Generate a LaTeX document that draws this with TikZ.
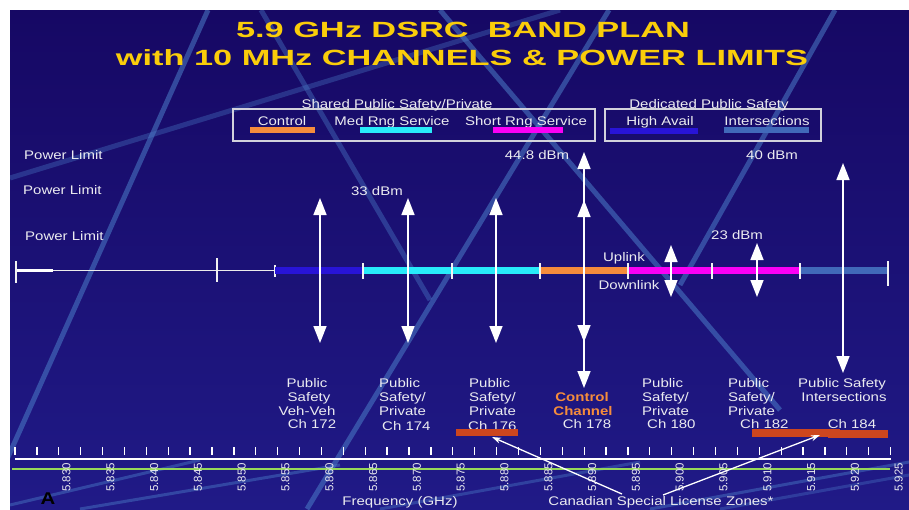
\documentclass[tikz,border=0pt]{standalone}
\usepackage{fontspec}
\usepackage{graphicx}
\setmainfont{Liberation Sans}[FakeStretch=1.2]
\newfontfamily\titlefont{Liberation Sans}[FakeStretch=1.56]
\newfontfamily\axisfont{Liberation Sans}
\usetikzlibrary{arrows.meta}
\definecolor{bgtop}{RGB}{22,8,100}
\definecolor{bgbot}{RGB}{32,26,135}
\definecolor{stripecol}{RGB}{75,125,200}
\definecolor{titleyel}{RGB}{250,205,10}
\definecolor{hablue}{RGB}{40,20,215}
\definecolor{medcyan}{RGB}{40,235,250}
\definecolor{ctrlorg}{RGB}{245,140,60}
\definecolor{srmag}{RGB}{250,0,245}
\definecolor{intblue}{RGB}{65,105,185}
\definecolor{canred}{RGB}{205,70,30}
\definecolor{txtcol}{RGB}{235,235,240}
\definecolor{boxline}{RGB}{210,210,220}
\definecolor{axgreen}{RGB}{150,215,90}
\tikzset{
  lbl/.style={text=txtcol, font=\fontsize{12.5}{14}\selectfont, inner sep=0pt},
  ctl/.style={text=ctrlorg, font=\bfseries\fontsize{12.5}{14}\selectfont, inner sep=0pt},
  ttl/.style={text=titleyel, font=\titlefont\bfseries\fontsize{22}{24}\selectfont, inner sep=0pt},
  axlbl/.style={text=txtcol, font=\axisfont\fontsize{11.5}{12}\selectfont, rotate=90, inner sep=0pt},
  legbox/.style={draw=boxline, line width=1.4pt},
  stripe/.style={draw=stripecol, line width=5pt, opacity=0.55},
  dblarrow/.style={draw=white, line width=1.6pt, {Triangle[length=17pt,width=13pt]}-{Triangle[length=17pt,width=13pt]}},
  bandtick/.style={draw=white!90!gray, line width=1.4pt},
  canarrow/.style={draw=white, line width=1.3pt, -{Stealth[length=9pt,width=6pt]}},
}
\begin{document}
\begin{tikzpicture}[x=1pt,y=-1pt]
\useasboundingbox (0,0) rectangle (909,509);
\fill[white] (0,0) rectangle (909,509);
\shade[top color=bgtop, bottom color=bgbot] (10,10) rectangle (909,509);
% decorative stripes
\begin{scope}
\clip (10,10) rectangle (909,509);
\draw[stripe] (208,10) -- (0,475);
\draw[stripe, opacity=0.35] (10,178) -- (560,10);
\draw[stripe] (440,10) -- (780,410);
\draw[stripe] (609,10) -- (307,509);
\draw[stripe] (835,10) -- (680,285);
\draw[stripe, opacity=0.4] (261,10) -- (430,300);
\draw[stripe, line width=3pt, opacity=0.45] (10,505) -- (200,460);
\draw[stripe, line width=3pt, opacity=0.45] (80,509) -- (340,465);
\draw[stripe, line width=3pt, opacity=0.4] (380,509) -- (640,462);
\draw[stripe, line width=3pt, opacity=0.45] (650,509) -- (909,462);
\draw[stripe, line width=3pt, opacity=0.35] (720,509) -- (909,475);
\end{scope}
% title
\node[ttl, anchor=base] (t1) at (463,37.3) {5.9 GHz DSRC~~BAND PLAN};
\node[ttl, anchor=base] (t2) at (462,65) {with 10 MHz CHANNELS \& POWER LIMITS};
% legend
\draw[legbox] (233,109) rectangle (595,141);
\draw[legbox] (605,109) rectangle (821,141);
\node[lbl, anchor=base] (shared) at (397,108.5) {Shared Public Safety/Private};
\node[lbl, anchor=base] (dedic) at (709,108.5) {Dedicated Public Safety};
\node[lbl, anchor=base] (lctrl) at (282,125.5) {Control};
\fill[ctrlorg] (250,127) rectangle (315,133);
\node[lbl, anchor=base] (lmed) at (392,125.5) {Med Rng Service};
\fill[medcyan] (360,127) rectangle (432,133);
\node[lbl, anchor=base] (lshort) at (526,125.5) {Short Rng Service};
\fill[srmag] (493,127) rectangle (563,133);
\node[lbl, anchor=base] (lhigh) at (660,125.5) {High Avail};
\fill[hablue] (610,128) rectangle (698,134);
\node[lbl, anchor=base] (linter) at (767,125.5) {Intersections};
\fill[intblue] (724,127) rectangle (809,133);
% power limits
\node[lbl, anchor=base west] (pl1) at (24,159.5) {Power Limit};
\node[lbl, anchor=base west] (pl2) at (23,194) {Power Limit};
\node[lbl, anchor=base west] (pl3) at (25,240.5) {Power Limit};
\node[lbl, anchor=base] (p33) at (377,195.5) {33 dBm};
\node[lbl, anchor=base] (p448) at (537,159.5) {44.8 dBm};
\node[lbl, anchor=base] (p40) at (772,159.5) {40 dBm};
\node[lbl, anchor=base] (p23) at (737,239.5) {23 dBm};
\node[lbl, anchor=base] (uplink) at (624,261.5) {Uplink};
\node[lbl, anchor=base] (downlink) at (629,289.5) {Downlink};
% band line
\draw[white!85!gray, line width=1.3pt] (16,270.5) -- (275,270.5);
\draw[white, line width=2.4pt] (16,270.5) -- (53,270.5);
\draw[bandtick] (16,261) -- (16,283);
\draw[bandtick] (217,258) -- (217,282);
\draw[bandtick] (275,265) -- (275,277);
\fill[hablue] (275,267) rectangle (363,274);
\fill[medcyan] (363,267) rectangle (540,274);
\fill[ctrlorg] (540,267) rectangle (628,274);
\fill[srmag] (628,267) rectangle (800,274);
\fill[intblue] (800,267) rectangle (888,274);
\foreach \bx in {363,452,540,628,712,800} {\draw[bandtick] (\bx,263) -- (\bx,279);}
\draw[bandtick] (888,261) -- (888,286);
% power arrows
\coordinate (a172t) at (320,198); \coordinate (a172b) at (320,343);
\coordinate (a174t) at (408,198); \coordinate (a174b) at (408,343);
\coordinate (a176t) at (496,198); \coordinate (a176b) at (496,343);
\coordinate (a178t) at (584,152); \coordinate (a178b) at (584,388);
\coordinate (a178u) at (584,200); \coordinate (a178d) at (584,342);
\coordinate (a180t) at (671,245); \coordinate (a180b) at (671,297);
\coordinate (a182t) at (757,243); \coordinate (a182b) at (757,297);
\coordinate (a184t) at (843,163); \coordinate (a184b) at (843,373);
\draw[dblarrow] (a172t) -- (a172b);
\draw[dblarrow] (a174t) -- (a174b);
\draw[dblarrow] (a176t) -- (a176b);
\draw[dblarrow] (a178t) -- (a178b);
\draw[dblarrow] (a178u) -- (a178d);
\draw[dblarrow] (a180t) -- (a180b);
\draw[dblarrow] (a182t) -- (a182b);
\draw[dblarrow] (a184t) -- (a184b);
% channel labels
\node[lbl, anchor=base] (c172a) at (307,387.5) {Public};
\node[lbl, anchor=base] (c172b) at (309,401.5) {Safety};
\node[lbl, anchor=base] (c172c) at (307,415.5) {Veh-Veh};
\node[lbl, anchor=base] (c172d) at (312,428.5) {Ch 172};
\node[lbl, anchor=base west] (c174a) at (379,387.5) {Public};
\node[lbl, anchor=base west] (c174b) at (379,401.5) {Safety/};
\node[lbl, anchor=base west] (c174c) at (379,415.5) {Private};
\node[lbl, anchor=base west] (c174d) at (382,430.5) {Ch 174};
\node[lbl, anchor=base west] (c176a) at (469,387.5) {Public};
\node[lbl, anchor=base west] (c176b) at (469,401.5) {Safety/};
\node[lbl, anchor=base west] (c176c) at (469,415.5) {Private};
\node[lbl, anchor=base west] (c176d) at (468,430.5) {Ch 176};
\node[ctl, anchor=base] (c178a) at (582,401.5) {Control};
\node[ctl, anchor=base] (c178b) at (583,415.5) {Channel};
\node[lbl, anchor=base] (c178c) at (587,428.5) {Ch 178};
\node[lbl, anchor=base west] (c180a) at (642,387.5) {Public};
\node[lbl, anchor=base west] (c180b) at (642,401.5) {Safety/};
\node[lbl, anchor=base west] (c180c) at (642,415.5) {Private};
\node[lbl, anchor=base west] (c180d) at (647,428.5) {Ch 180};
\node[lbl, anchor=base west] (c182a) at (728,387.5) {Public};
\node[lbl, anchor=base west] (c182b) at (728,401.5) {Safety/};
\node[lbl, anchor=base west] (c182c) at (728,415.5) {Private};
\node[lbl, anchor=base west] (c182d) at (740,428.5) {Ch 182};
\node[lbl, anchor=base] (c184a) at (842,387.5) {Public Safety};
\node[lbl, anchor=base] (c184b) at (844,401.5) {Intersections};
\node[lbl, anchor=base] (c184c) at (852,428.5) {Ch 184};
% Canadian zone bars
\fill[canred] (456,429) rectangle (518,436);
\fill[canred] (752,429) rectangle (840,437);
\fill[canred] (828,430) rectangle (888,438);
% axis
\foreach \i in {0,...,40} {\draw[white, line width=1.3pt] ({15+21.89*\i},447) -- ({15+21.89*\i},455);}
\draw[white, line width=2pt] (15,459) -- (891,459);
\draw[axgreen, line width=2pt] (12,468.7) -- (890,468.7);
\foreach \i/\t in {0/5.830,1/5.835,2/5.840,3/5.845,4/5.850,5/5.855,6/5.860,7/5.865,8/5.870,9/5.875,10/5.880,11/5.885,12/5.890,13/5.895,14/5.900,15/5.905,16/5.910,17/5.915,18/5.920,19/5.925}
  {\node[axlbl] (ax\i) at ({66.5+43.8*\i},477.5) {\t};}
\node[text=black, font=\bfseries\fontsize{17}{18}\selectfont, inner sep=0pt, anchor=base] (alabel) at (48,504.5) {A};
\node[lbl, anchor=base] (freq) at (400,505.5) {Frequency (GHz)};
\node[lbl, anchor=base] (canz) at (661,505.5) {Canadian Special License Zones*};
\coordinate (cz1) at (622,494); \coordinate (bz1) at (492,437);
\coordinate (cz2) at (663,495); \coordinate (bz2) at (820,435);
\draw[canarrow] (cz1) -- (bz1);
\draw[canarrow] (cz2) -- (bz2);
\end{tikzpicture}
\end{document}
